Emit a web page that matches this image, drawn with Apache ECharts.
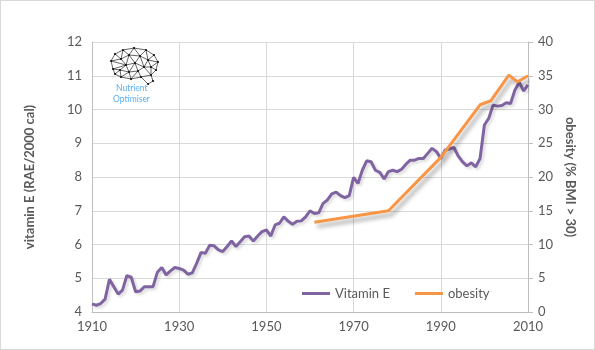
<!DOCTYPE html>
<html>
<head>
<meta charset="utf-8">
<script src="https://cdn.jsdelivr.net/npm/echarts@6/dist/echarts.min.js"></script>
<style>
  html, body { margin: 0; padding: 0; background: #fff; }
  #chart { width: 593px; height: 348px; border: 1px solid #d9d9d9; }
</style>
</head>
<body>
<div id="chart"></div>
<script>
// vitamin E per year, 1910..2010
const vitaminStartYear = 1910;
const vitaminE = [
  4.24, 4.2, 4.25, 4.38, 4.97, 4.75, 4.53, 4.65, 5.08, 5.03,
  4.6, 4.62, 4.75, 4.75, 4.75, 5.18, 5.32, 5.1, 5.22, 5.32,
  5.29, 5.24, 5.12, 5.16, 5.44, 5.76, 5.74, 5.98, 5.96, 5.84,
  5.79, 5.94, 6.11, 5.94, 6.08, 6.23, 6.25, 6.1, 6.25, 6.38,
  6.43, 6.25, 6.58, 6.63, 6.82, 6.69, 6.6, 6.69, 6.7, 6.82,
  7.0, 6.92, 6.94, 7.22, 7.32, 7.5, 7.55, 7.45, 7.39, 7.45,
  7.99, 7.81, 8.2, 8.48, 8.45, 8.2, 8.14, 7.94, 8.16, 8.2,
  8.16, 8.23, 8.38, 8.5, 8.5, 8.55, 8.55, 8.7, 8.85, 8.75,
  8.55, 8.8, 8.83, 8.88, 8.62, 8.45, 8.33, 8.42, 8.3, 8.55,
  9.54, 9.74, 10.13, 10.1, 10.12, 10.2, 10.18, 10.58, 10.8, 10.55,
  10.73
];

const obesityYears = [1961, 1978, 1990, 1999, 2001.5, 2005.6, 2007.6, 2010];
const obesity = [13.3, 15.0, 22.9, 30.7, 31.3, 35.1, 34.1, 35.0];

const chart = echarts.init(document.getElementById("chart"));
const font = "Lato, 'Open Sans', sans-serif";
const grey = "#595959";

// brain logo (decoration)
const brainNodes = [
  [112, 68], [110, 60], [114, 53], [122, 49], [133, 47], [145, 49], [153, 54], [157, 61],
  [155, 69], [150, 74], [152, 80], [147, 83], [140, 76], [130, 78], [120, 76], [114, 73],
  [120, 58], [128, 54], [139, 55], [147, 59], [125, 64], [134, 62], [143, 66], [150, 66],
  [119, 69], [128, 71], [137, 70]
];
const brainEdges = [
  [0,1],[1,2],[2,3],[3,4],[4,5],[5,6],[6,7],[7,8],[8,9],[9,10],[10,11],[11,12],[9,12],
  [12,13],[13,14],[14,15],[15,0],
  [1,16],[2,16],[3,16],[3,17],[4,17],[4,18],[5,18],[5,19],[6,19],[7,19],[16,17],[17,18],[18,19],
  [16,20],[17,20],[17,21],[18,21],[18,22],[19,22],[19,23],[7,23],[8,23],[20,21],[21,22],[22,23],
  [0,20],[0,24],[20,24],[20,25],[21,25],[21,26],[22,26],[22,9],[23,9],[24,25],[25,26],[26,12],
  [24,15],[24,14],[25,14],[25,13],[26,13],[1,20]
];
const brainGraphics = brainEdges.map(([a, b]) => ({
  type: "line",
  shape: { x1: brainNodes[a][0], y1: brainNodes[a][1], x2: brainNodes[b][0], y2: brainNodes[b][1] },
  style: { stroke: "#222", lineWidth: 0.7 },
  z: 10
})).concat(brainNodes.map(([x, y]) => ({
  type: "circle", shape: { cx: x, cy: y, r: 1.1 }, style: { fill: "#111" }, z: 11
})));

chart.setOption({
  animation: false,
  textStyle: { fontFamily: font },
  grid: { left: 91, right: 66, top: 41, bottom: 37 },
  legend: {
    left: 296, top: 281,
    itemWidth: 28, itemHeight: 3, itemGap: 25,
    icon: "rect",
    textStyle: { fontSize: 13, color: grey, fontFamily: font },
    data: ["Vitamin E", "obesity"]
  },
  xAxis: {
    type: "value",
    min: 1910, max: 2010, interval: 20,
    axisLine: { lineStyle: { color: "#bfbfbf" } },
    axisTick: { show: false },
    axisLabel: {
      color: grey, fontSize: 13, margin: 8,
      formatter: (v) => String(v)
    },
    splitLine: { show: true, lineStyle: { color: "#d9d9d9" } }
  },
  yAxis: [
    {
      type: "value",
      min: 4, max: 12, interval: 1,
      name: "vitamin E (RAE/2000 cal)",
      nameLocation: "middle", nameGap: 56, nameRotate: 90,
      nameTextStyle: { color: grey, fontSize: 13, fontWeight: "bold" },
      axisLine: { show: true, lineStyle: { color: "#bfbfbf" } },
      axisTick: { show: false },
      axisLabel: { color: grey, fontSize: 13, margin: 10 },
      splitLine: { show: true, lineStyle: { color: "#d9d9d9" } }
    },
    {
      type: "value",
      min: 0, max: 40, interval: 5,
      name: "obesity (% BMI > 30)",
      nameLocation: "middle", nameGap: 35, nameRotate: -90,
      nameTextStyle: { color: grey, fontSize: 13, fontWeight: "bold" },
      axisLine: { show: true, lineStyle: { color: "#bfbfbf" } },
      axisTick: { show: true, length: 5, lineStyle: { color: "#bfbfbf" } },
      axisLabel: { color: grey, fontSize: 13, margin: 10 },
      splitLine: { show: false }
    }
  ],
  series: [
    {
      name: "Vitamin E",
      type: "line",
      yAxisIndex: 0,
      symbol: "none",
      data: vitaminE.map((v, i) => [vitaminStartYear + i, v]),
      lineStyle: {
        width: 3, color: "#8064a2",
        shadowColor: "rgba(0,0,0,0.15)", shadowBlur: 3, shadowOffsetX: 2, shadowOffsetY: 2
      },
      itemStyle: { color: "#8064a2" },
      z: 3
    },
    {
      name: "obesity",
      type: "line",
      yAxisIndex: 1,
      symbol: "none",
      data: obesityYears.map((y, i) => [y, obesity[i]]),
      lineStyle: {
        width: 3, color: "#f79646",
        shadowColor: "rgba(0,0,0,0.35)", shadowBlur: 4, shadowOffsetX: 3, shadowOffsetY: 4
      },
      itemStyle: { color: "#f79646" },
      z: 4
    }
  ],
  graphic: brainGraphics.concat([
    {
      type: "text", left: 115, top: 83, z: 12,
      style: { text: "Nutrient", fill: "#5aaef0", font: "8.5px " + font }
    },
    {
      type: "text", left: 112, top: 94, z: 12,
      style: { text: "Optimiser", fill: "#5aaef0", font: "8.5px " + font }
    }
  ])
});
</script>
</body>
</html>
